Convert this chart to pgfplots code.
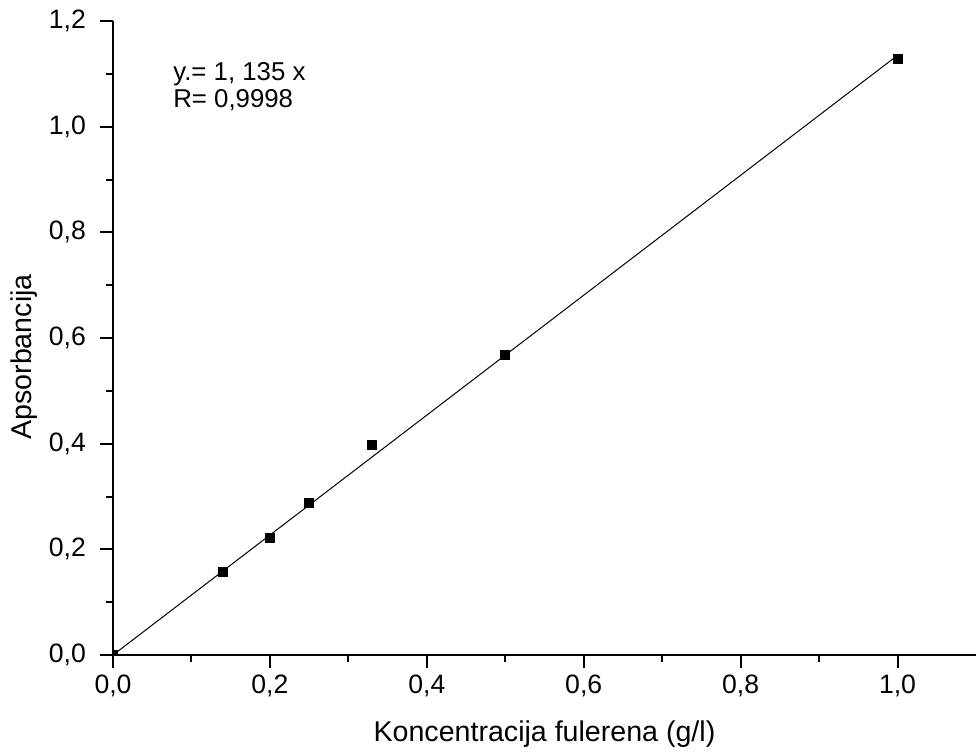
\documentclass[border=0pt]{standalone}
\usepackage{fontspec}
\setmainfont{Liberation Sans}
\usepackage{pgfplots}
\pgfplotsset{compat=1.18}
\begin{document}
\begin{tikzpicture}
\begin{axis}[
  scale only axis,
  width=431.5pt, height=317pt,
  xmin=0, xmax=1.1, ymin=0, ymax=1.2,
  axis x line*=bottom, axis y line*=left,
  axis line style={line width=1pt,-},
  xtick={0,0.2,0.4,0.6,0.8,1.0},
  ytick={0,0.2,0.4,0.6,0.8,1.0,1.2},
  minor x tick num=1, minor y tick num=1,
  tick align=outside,
  major tick length=6.5pt, minor tick length=3.5pt,
  tick style={line width=1pt,black},
  clip marker paths=true,
  /pgf/number format/.cd, fixed, fixed zerofill, precision=1, use comma, assume math mode=true,
  /pgfplots/.cd,
  ticklabel style={font=\fontsize{13.3}{15}\selectfont},
  yticklabel style={xshift=-3.5pt},
  label style={font=\fontsize{14.3}{17}\selectfont},
  xlabel={Koncentracija fulerena (g/l)},
  ylabel={Apsorbancija},
  xlabel style={yshift=-5pt},
  ylabel style={at={(ticklabel cs:0.47)}, yshift=-1pt},
]
\addplot[black, line width=0.5pt, no marks] coordinates {(0,0) (1.0,1.135)};
\addplot[only marks, mark=square*, mark size=2.25pt, black] coordinates {
  (0,0) (0.14,0.157) (0.2,0.221) (0.25,0.288) (0.33,0.397) (0.5,0.568) (1.0,1.128)
};
\node[anchor=base west, inner sep=0pt, font=\fontsize{12.9}{15}\selectfont] at (axis cs:0.0764,1.088) {y.= 1, 135 x};
\node[anchor=base west, inner sep=0pt, font=\fontsize{12.9}{15}\selectfont] at (axis cs:0.0764,1.037) {R= 0,9998};
\end{axis}
\pgfresetboundingbox
\useasboundingbox (-56.5pt,-48pt) rectangle (431.5pt,327.5pt);
\end{tikzpicture}
\end{document}
